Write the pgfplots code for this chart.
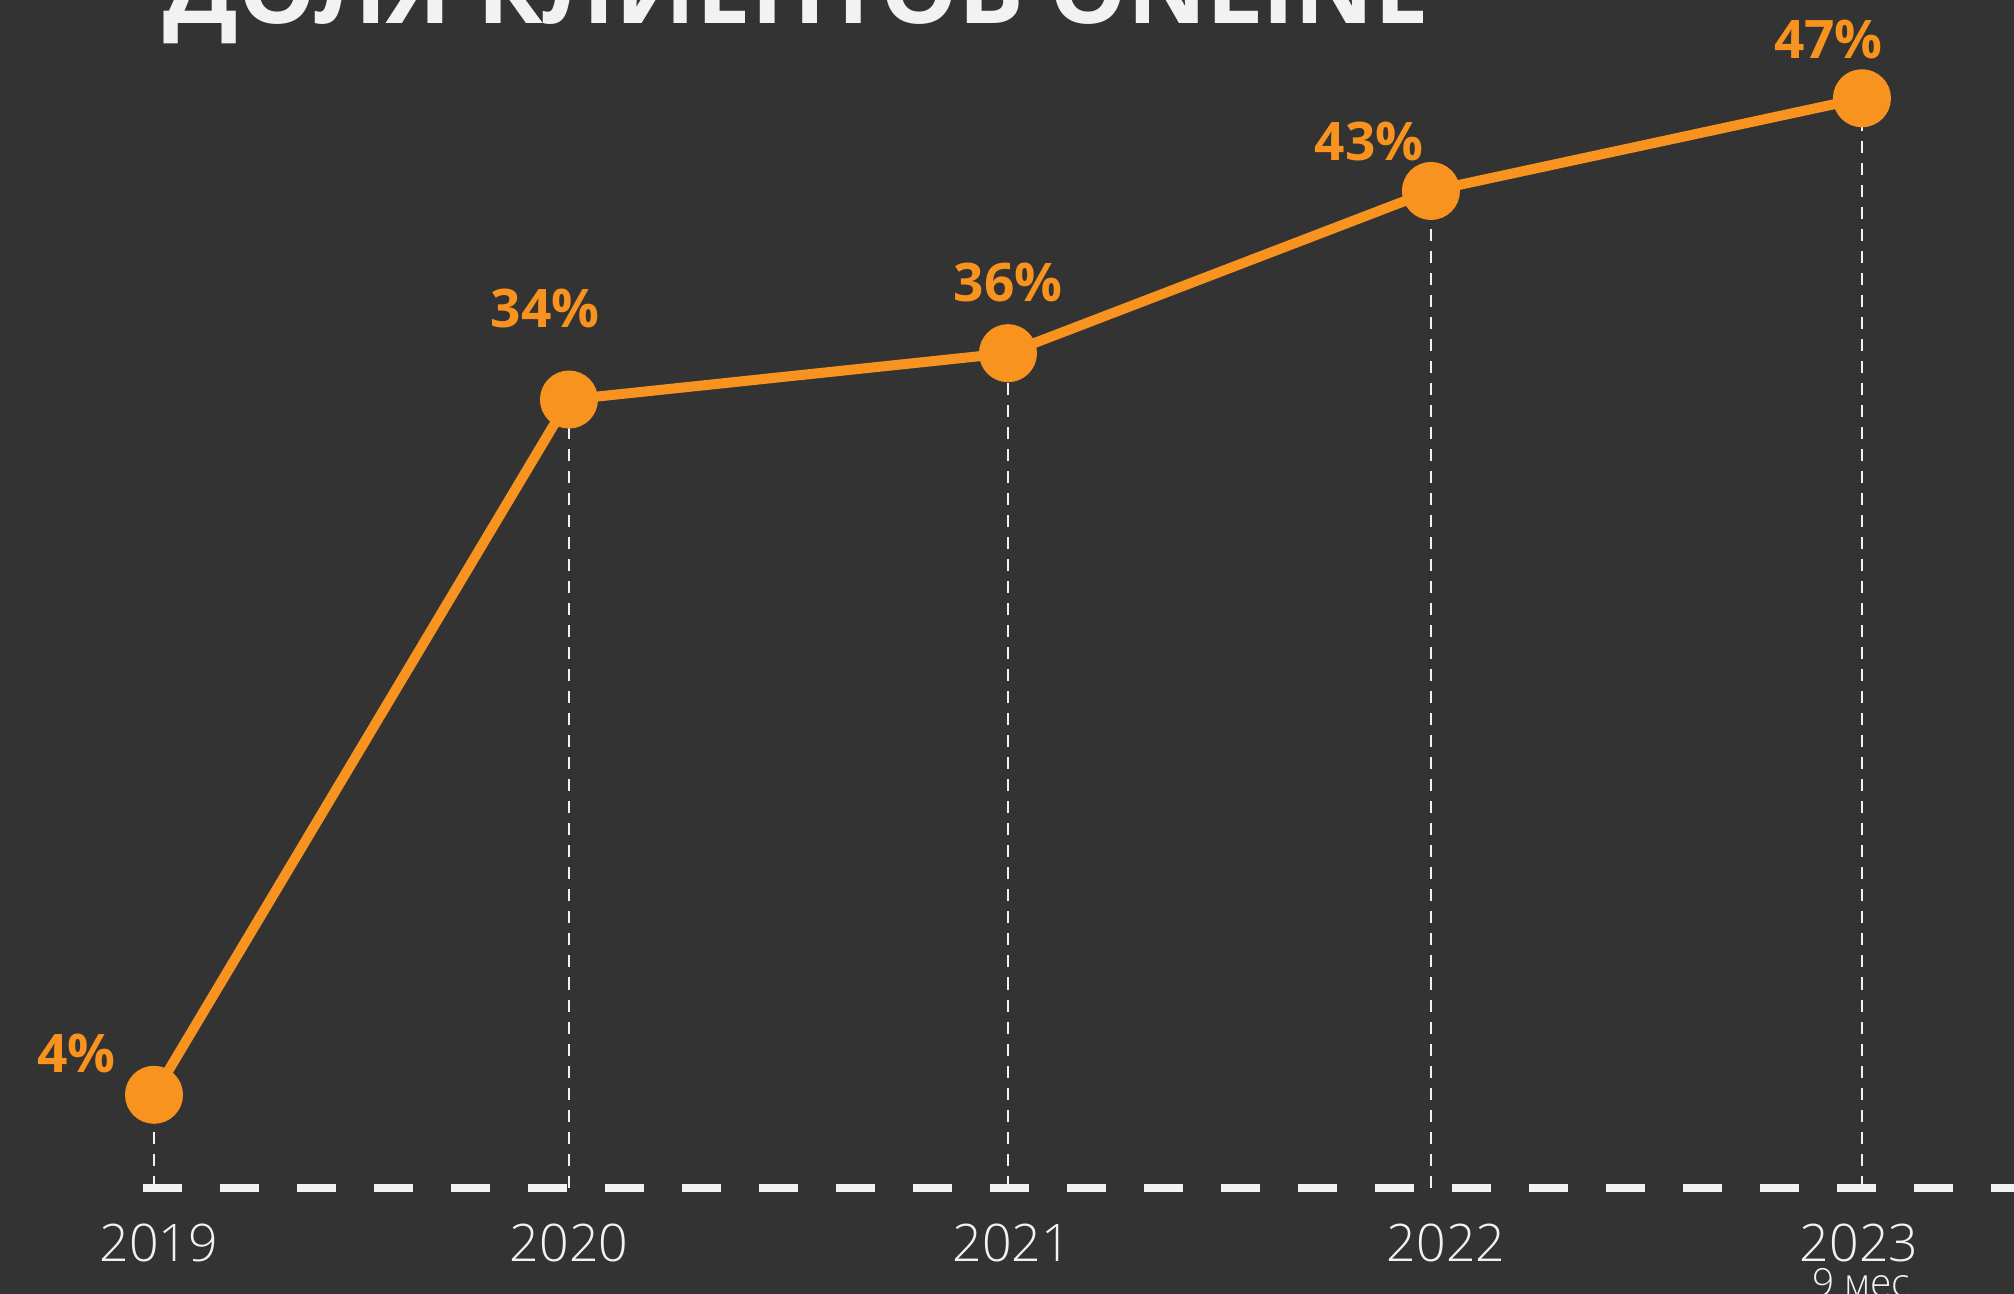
\documentclass[border=0pt]{standalone}
\usepackage{pgfplots}
\pgfplotsset{compat=1.18}
\usepackage{fontspec}
\setmainfont{Open Sans}
\newfontfamily\lightfont{Open Sans Light}
\definecolor{bg}{HTML}{333333}
\definecolor{org}{HTML}{F7931E}
\definecolor{wht}{HTML}{F2F2F2}
\pgfplotstableread{
x v
0 4
0.9719 34
2.0 36
2.9906 43
4.0 47
}\datatab
\begin{document}
\begin{tikzpicture}
\fill[bg] (0,-53.25bp) rectangle (1007bp,593.75bp);
\clip (0,-53.25bp) rectangle (1007bp,593.75bp);
\node[anchor=base west, text=wht, font=\fontsize{48.9bp}{49bp}\selectfont\bfseries, inner sep=0] at (81.5bp,582bp) {ДОЛЯ КЛИЕНТОВ ONLINE};
\begin{axis}[
  width=1007bp, height=593.75bp, scale only axis,
  xmin=-0.36066, xmax=4.3560, ymin=0, ymax=51.24,
  clip=false,
  axis line style={draw=none},
  major tick length=0pt,
  ymajorticks=false,
  xtick={0.011,0.9719,2.009,3.026,3.993},
  xticklabels={2019,2020,2021,2022,2023},
  xticklabel style={anchor=base, yshift=-37bp, text=wht, inner sep=0pt,
    font=\lightfont\fontsize{25.9bp}{26bp}\selectfont},
]
\addplot[ycomb, wht, line width=1.3bp, dash pattern=on 6bp off 5bp, no marks] table[x=x,y=v] {\datatab};
\draw[wht, line width=4bp, dash pattern=on 19.5bp off 19bp] (axis cs:-0.026,0) -- (axis cs:4.4,0);
\addplot[org, line width=5bp, mark=*, mark size=12bp, mark options={fill=org, draw=none}] table[x=x,y=v] {\datatab};
\tikzset{lbl/.style={anchor=base, text=org, inner sep=0pt, font=\fontsize{26.6bp}{27bp}\selectfont\bfseries}}
\node[lbl, xshift=-38.8bp, yshift=11bp] at (axis cs:0,4) {4\%};
\node[lbl, xshift=-12bp, yshift=36bp] at (axis cs:0.9719,34) {34\%};
\node[lbl, xshift=0bp, yshift=25.7bp] at (axis cs:2.0,36) {36\%};
\node[lbl, xshift=-31bp, yshift=15.4bp] at (axis cs:2.9906,43) {43\%};
\node[lbl, xshift=-16.8bp, yshift=19.9bp] at (axis cs:4.0,47) {47\%};
\node[anchor=base, text=wht, inner sep=0pt, yshift=-54.25bp, font=\lightfont\fontsize{19.4bp}{20bp}\selectfont] at (axis cs:3.998,0) {9 мес};
\end{axis}
\end{tikzpicture}
\end{document}
